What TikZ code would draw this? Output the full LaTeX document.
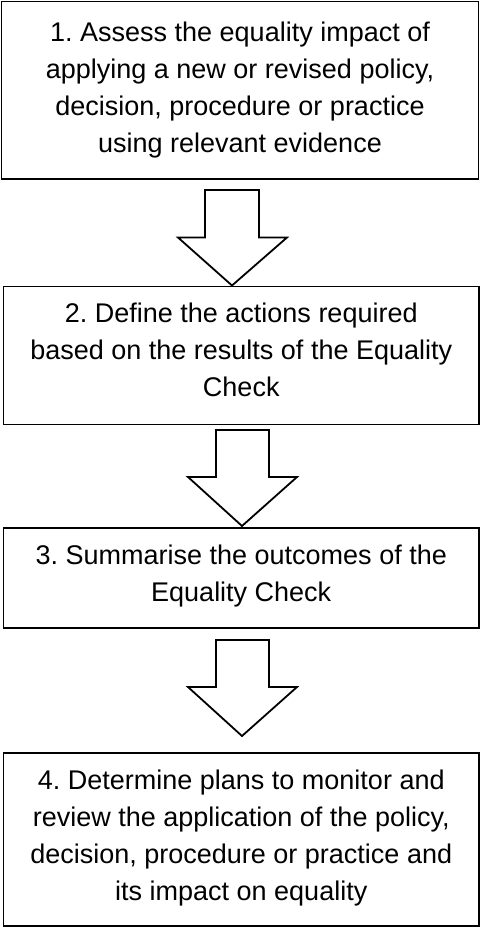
\documentclass[tikz,border=0pt]{standalone}
\usepackage{fontspec}
\setmainfont{Liberation Sans}
\usetikzlibrary{calc}
\frenchspacing
\begin{document}
\begin{tikzpicture}[x=1pt,y=-1pt,
  box/.style={draw=black, line width=1.5pt, rectangle, inner sep=0pt},
  boxtext/.style={anchor=north, align=center, inner sep=0pt, font=\fontsize{27}{37}\selectfont},
  blockarrow/.style={draw=black, line width=1.8pt, fill=white, line join=miter}]
\useasboundingbox (0,0) rectangle (481,928);
% boxes
\node[box, minimum width=477pt, minimum height=177.5pt] (b1) at (240,90.25) {};
\node[box, minimum width=475.5pt, minimum height=138pt] (b2) at (241.25,355.5) {};
\node[box, minimum width=475.5pt, minimum height=100pt] (b3) at (241.25,578) {};
\node[box, minimum width=475.5pt, minimum height=173pt] (b4) at (241.25,839.5) {};
% texts
\node[boxtext] (t1) at ($(b1.north)+(0,20.8)$) {1. Assess the equality impact of\\applying a new or revised policy,\\decision, procedure or practice\\using relevant evidence};
\node[boxtext] (t2) at ($(b2.north)+(0,16.5)$) {2. Define the actions required\\based on the results of the Equality\\Check};
\node[boxtext] (t3) at ($(b3.north)+(0,17.3)$) {3. Summarise the outcomes of the\\Equality Check};
\node[boxtext] (t4) at ($(b4.north)+(0,17.3)$) {4. Determine plans to monitor and\\review the application of the policy,\\decision, procedure or practice and\\its impact on equality};
% block arrows
\coordinate (a1) at (232,285.5);
\coordinate (a2) at (242,526);
\coordinate (a3) at (242,736);
\draw[blockarrow] (a1) -- ++(-54,-48) -- ++(27,0) -- ++(0,-47.5) -- ++(54,0) -- ++(0,47.5) -- ++(28,0) -- cycle;
\draw[blockarrow] (a2) -- ++(-54,-49) -- ++(28,0) -- ++(0,-47) -- ++(53,0) -- ++(0,47) -- ++(28,0) -- cycle;
\draw[blockarrow] (a3) -- ++(-54,-49) -- ++(28,0) -- ++(0,-47) -- ++(53,0) -- ++(0,47) -- ++(28,0) -- cycle;
\end{tikzpicture}
\end{document}
